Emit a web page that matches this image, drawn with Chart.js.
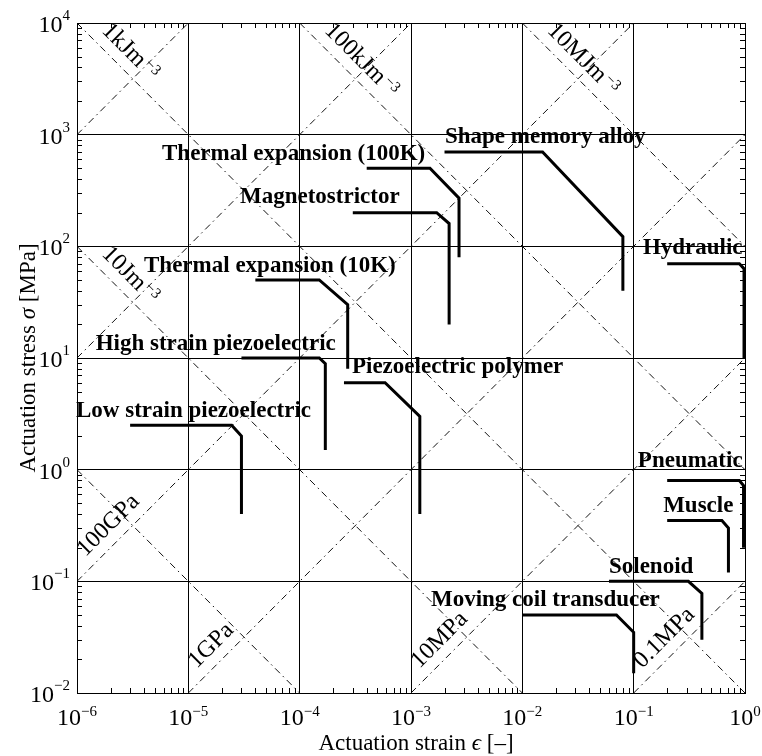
<!DOCTYPE html>
<html>
<head>
<meta charset="utf-8">
<script src="https://cdn.jsdelivr.net/npm/chart.js@4.4.0/dist/chart.umd.min.js"></script>
<style>
  html, body { margin: 0; padding: 0; background: #fff; }
  canvas { display: block; }
</style>
</head>
<body>
<canvas id="actuators" width="762" height="756"></canvas>
<script>
// axis decades (powers of ten)
const epsDecades = [-6, -5, -4, -3, -2, -1, 0];
const sigDecades = [-2, -1, 0, 1, 2, 3, 4];

// guide lines: sigma*eps = const and sigma/eps = const (MPa)
const energyLevels = [1e-6, 1e-4, 1e-2, 1, 1e2];
const energyLabels = [null, '10Jm', '1kJm', '100kJm', '10MJm'];
const modulusLevels = [1e9, 1e7, 1e5, 1e3, 1e1, 1e-1];
const modulusLabels = [null, null, '100GPa', '1GPa', '10MPa', '0.1MPa'];

// actuator envelopes: strain [-], stress [MPa]
const lowPiezoEps = [3e-6, 2.45e-5, 3e-5, 3e-5];
const lowPiezoSig = [2.5, 2.5, 2.0, 0.4];
const highPiezoEps = [3e-5, 1.5e-4, 1.7e-4, 1.7e-4];
const highPiezoSig = [10, 10, 8.9, 1.5];
const thermal10Eps = [4e-5, 1.5e-4, 2.7e-4, 2.7e-4];
const thermal10Sig = [50, 50, 30, 8];
const polymerEps = [2.5e-4, 5.85e-4, 1.2e-3, 1.2e-3];
const polymerSig = [6, 6, 3, 0.4];
const magnetoEps = [3e-4, 1.7e-3, 2.2e-3, 2.2e-3];
const magnetoSig = [200, 200, 160, 20];
const thermal100Eps = [4e-4, 1.48e-3, 2.7e-3, 2.7e-3];
const thermal100Sig = [500, 500, 270, 80];
const smaEps = [2e-3, 1.52e-2, 8e-2, 8e-2];
const smaSig = [700, 700, 122, 40];
const hydraulicEps = [0.2, 0.89, 0.98, 0.98];
const hydraulicSig = [70, 70, 63, 10];
const pneumaticEps = [0.2, 0.89, 0.97, 0.97];
const pneumaticSig = [0.8, 0.8, 0.72, 0.2];
const muscleEps = [0.2, 0.62, 0.71, 0.71];
const muscleSig = [0.35, 0.35, 0.3, 0.12];
const solenoidEps = [0.06, 0.31, 0.41, 0.41];
const solenoidSig = [0.1, 0.1, 0.078, 0.03];
const coilEps = [0.01, 0.07, 0.1, 0.1];
const coilSig = [0.05, 0.05, 0.035, 0.015];

const actuatorNames = ['Low strain piezoelectric', 'High strain piezoelectric', 'Thermal expansion (10K)',
  'Piezoelectric polymer', 'Magnetostrictor', 'Thermal expansion (100K)', 'Shape memory alloy',
  'Hydraulic', 'Pneumatic', 'Muscle', 'Solenoid', 'Moving coil transducer'];
const actuatorEps = [lowPiezoEps, highPiezoEps, thermal10Eps, polymerEps, magnetoEps, thermal100Eps,
  smaEps, hydraulicEps, pneumaticEps, muscleEps, solenoidEps, coilEps];
const actuatorSig = [lowPiezoSig, highPiezoSig, thermal10Sig, polymerSig, magnetoSig, thermal100Sig,
  smaSig, hydraulicSig, pneumaticSig, muscleSig, solenoidSig, coilSig];
// where each name sits (left end of its baseline)
const labelEps = [0.98e-6, 1.47e-6, 4.0e-6, 2.95e-4, 2.91e-5, 5.8e-6, 2.02e-3, 0.121, 0.109, 0.184, 0.060, 1.51e-3];
const labelSig = [2.95, 11.8, 58.8, 7.32, 244, 592, 841, 85.2, 1.05, 0.416, 0.118, 0.0598];

const EPS_MIN = Math.pow(10, epsDecades[0]), EPS_MAX = Math.pow(10, epsDecades[epsDecades.length - 1]);
const SIG_MIN = Math.pow(10, sigDecades[0]), SIG_MAX = Math.pow(10, sigDecades[sigDecades.length - 1]);

const SERIF = '"Liberation Serif", "DejaVu Serif", serif';

const datasets = [];

// actuator curves
actuatorEps.forEach((eps, i) => {
    datasets.push({
        label: actuatorNames[i],
        data: eps.map((e, j) => ({ x: e, y: actuatorSig[i][j] })),
        showLine: true,
        borderColor: '#000',
        borderWidth: 3,
        borderJoinStyle: 'miter',
        borderCapStyle: 'butt',
        pointRadius: 0,
        fill: false
    });
});

// dash-dot guide lines, clipped to the axes box
const guide = { showLine: true, borderColor: '#111', borderWidth: 1, borderDash: [7, 4, 1.5, 4], pointRadius: 0, fill: false };
energyLevels.forEach(p => {
    const lo = Math.max(EPS_MIN, p / SIG_MAX), hi = Math.min(EPS_MAX, p / SIG_MIN);
    datasets.push(Object.assign({ data: [{ x: lo, y: p / lo }, { x: hi, y: p / hi }] }, guide));
});
modulusLevels.forEach(m => {
    const lo = Math.max(EPS_MIN, SIG_MIN / m), hi = Math.min(EPS_MAX, SIG_MAX / m);
    datasets.push(Object.assign({ data: [{ x: lo, y: m * lo }, { x: hi, y: m * hi }] }, guide));
});

function isDecade(v) {
    const l = Math.log10(v);
    return Math.abs(l - Math.round(l)) < 1e-6;
}

function powerLabel(ctx, exp, px, baseY, supY, align) {
    const sup = exp < 0 ? '\u2212' + (-exp) : String(exp);
    ctx.font = '24px ' + SERIF;
    const w1 = ctx.measureText('10').width;
    ctx.font = '15px ' + SERIF;
    const w2 = ctx.measureText(sup).width;
    const x0 = align === 'center' ? px - (w1 + w2) / 2 : px - (w1 + w2);
    ctx.font = '24px ' + SERIF;
    ctx.fillText('10', x0, baseY);
    ctx.font = '15px ' + SERIF;
    ctx.fillText(sup, x0 + w1, supY);
}

function mixedText(ctx, parts, cx, baseY) {
    let total = 0;
    parts.forEach(p => { ctx.font = p[1]; total += ctx.measureText(p[0]).width; });
    let x = cx - total / 2;
    parts.forEach(p => { ctx.font = p[1]; ctx.fillText(p[0], x, baseY); x += ctx.measureText(p[0]).width; });
}

const annotate = {
    id: 'annotate',
    afterDraw(chart) {
        const { ctx, chartArea: a, scales: { x, y } } = chart;
        ctx.save();
        ctx.fillStyle = '#000';
        ctx.strokeStyle = '#000';
        ctx.textBaseline = 'alphabetic';

        // frame
        ctx.lineWidth = 1;
        ctx.strokeRect(Math.round(a.left) + 0.5, Math.round(a.top) + 0.5,
            Math.round(a.right) - Math.round(a.left), Math.round(a.bottom) - Math.round(a.top));

        // inward minor ticks on all sides
        ctx.beginPath();
        sigDecades.slice(0, -1).forEach(d => {
            for (let k = 2; k < 10; k++) {
                const py = Math.round(y.getPixelForValue(k * Math.pow(10, d))) + 0.5;
                ctx.moveTo(a.left, py); ctx.lineTo(a.left + 5, py);
                ctx.moveTo(a.right, py); ctx.lineTo(a.right - 5, py);
            }
        });
        epsDecades.slice(0, -1).forEach(d => {
            for (let k = 2; k < 10; k++) {
                const px = Math.round(x.getPixelForValue(k * Math.pow(10, d))) + 0.5;
                ctx.moveTo(px, a.top); ctx.lineTo(px, a.top + 5);
                ctx.moveTo(px, a.bottom); ctx.lineTo(px, a.bottom - 5);
            }
        });
        ctx.stroke();

        // tick labels
        epsDecades.forEach(d => {
            powerLabel(ctx, d, x.getPixelForValue(Math.pow(10, d)), a.bottom + 32, a.bottom + 23, 'center');
        });
        sigDecades.forEach(d => {
            const py = y.getPixelForValue(Math.pow(10, d));
            powerLabel(ctx, d, 70, py + 9, py - 3, 'right');
        });

        // axis titles
        mixedText(ctx, [['Actuation strain ', '23px ' + SERIF], ['\u03f5', 'italic 23px ' + SERIF], [' [\u2013]', '23px ' + SERIF]],
            416, 750);
        ctx.save();
        ctx.translate(35, (a.top + a.bottom) / 2);
        ctx.rotate(-Math.PI / 2);
        mixedText(ctx, [['Actuation stress ', '23px ' + SERIF], ['\u03c3', 'italic 23px ' + SERIF], [' [MPa]', '23px ' + SERIF]],
            0, 0);
        ctx.restore();

        // guide line labels, a little off their lines
        energyLevels.forEach((p, i) => {
            if (!energyLabels[i]) return;
            const e = 1.4 * Math.max(EPS_MIN, p / SIG_MAX);
            ctx.save();
            ctx.translate(x.getPixelForValue(e), y.getPixelForValue(p / e));
            ctx.rotate(Math.PI / 4);
            ctx.font = '24px ' + SERIF;
            ctx.fillText(energyLabels[i], 0, -11);
            const w = ctx.measureText(energyLabels[i]).width;
            ctx.font = '15px ' + SERIF;
            ctx.fillText('\u22123', w + 2, -18);
            ctx.restore();
        });
        modulusLevels.forEach((m, i) => {
            if (!modulusLabels[i]) return;
            const e = 1.4 * Math.max(EPS_MIN, SIG_MIN / m);
            ctx.save();
            ctx.translate(x.getPixelForValue(e), y.getPixelForValue(m * e));
            ctx.rotate(-Math.PI / 4);
            ctx.font = '24px ' + SERIF;
            ctx.fillText(modulusLabels[i], 0, -11);
            ctx.restore();
        });

        // actuator names
        ctx.font = 'bold 23px ' + SERIF;
        actuatorNames.forEach((name, i) => {
            ctx.fillText(name, x.getPixelForValue(labelEps[i]), y.getPixelForValue(labelSig[i]));
        });
        ctx.restore();
    }
};

const gridColor = c => (c.tick && isDecade(c.tick.value)) ? '#000' : 'rgba(0,0,0,0)';

new Chart(document.getElementById('actuators'), {
    type: 'scatter',
    data: { datasets: datasets },
    options: {
        responsive: false,
        animation: false,
        layout: { padding: { left: 77, right: 17, top: 23, bottom: 63 } },
        plugins: { legend: { display: false }, tooltip: { enabled: false } },
        scales: {
            x: {
                type: 'logarithmic', min: EPS_MIN, max: EPS_MAX,
                ticks: { display: false },
                grid: { color: gridColor, lineWidth: 1, drawTicks: false },
                border: { display: false }
            },
            y: {
                type: 'logarithmic', min: SIG_MIN, max: SIG_MAX,
                ticks: { display: false },
                grid: { color: gridColor, lineWidth: 1, drawTicks: false },
                border: { display: false }
            }
        }
    },
    plugins: [annotate]
});
</script>
</body>
</html>
